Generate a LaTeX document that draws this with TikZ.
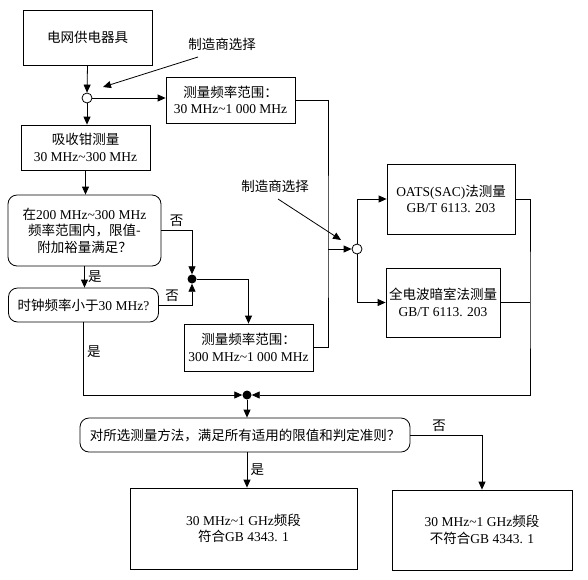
\documentclass[tikz,border=0pt]{standalone}
\usepackage{fontspec}
\setmainfont{Liberation Serif}
\newfontfamily\cjk{Noto Sans CJK SC}
\newcommand{\cn}[1]{{\cjk #1}}
\usetikzlibrary{arrows.meta}
\tikzset{
  box/.style={draw, line width=0.8pt, align=center, inner sep=0pt},
  ask/.style={box, rounded corners=9pt},
  hub/.style={circle, draw, line width=0.8pt, fill=white, inner sep=0pt, minimum size=10pt},
  joint/.style={circle, fill=black, inner sep=0pt, minimum size=9pt},
  note/.style={inner sep=1pt},
  wire/.style={line width=0.8pt},
  flow/.style={wire, -{Triangle[length=8pt,width=7pt]}}
}
\begin{document}
\begin{tikzpicture}[x=1pt, y=-1pt, font=\fontsize{13.5}{16.5}\selectfont]
  \useasboundingbox (0,0) rectangle (588,579);
  \draw
    (87.5,37.5) node[box, minimum width=129, minimum height=55] (dev){\cn{电网供电器具}}
    (87,98) node[hub] (c1){}
    (230.5,100) node[box, minimum width=129, minimum height=46] (r1){\cn{测量频率范围：}\\30 MHz\textasciitilde 1 000 MHz}
    (85.5,147.5) node[box, minimum width=129, minimum height=45] (clamp){\cn{吸收钳测量}\\30 MHz\textasciitilde 300 MHz}
    (84.5,230.5) node[ask, minimum width=153, minimum height=71] (q1){\cn{在}200 MHz\textasciitilde 300 MHz\\\cn{频率范围内，限值-}\\\cn{附加裕量满足？}}
    (83.5,305) node[ask, minimum width=150, minimum height=34] (q2){\cn{时钟频率小于}30 MHz?}
    (192,279) node[joint] (f1){}
    (248.5,347.5) node[box, minimum width=129, minimum height=47] (r2){\cn{测量频率范围：}\\300 MHz\textasciitilde 1 000 MHz}
    (357,249) node[hub] (c2){}
    (451,199) node[box, minimum width=128, minimum height=70] (oats){OATS(SAC)\cn{法测量}\\GB/T 6113. 203}
    (443,302.5) node[box, minimum width=114, minimum height=69] (fac){\cn{全电波暗室法测量}\\GB/T 6113. 203}
    (247,395) node[joint] (f2){}
    (245,435) node[ask, minimum width=330, minimum height=34] (q3){\cn{对所选测量方法，满足所有适用的限值和判定准则？}}
    (243.5,528.5) node[box, minimum width=227, minimum height=81] (pass){30 MHz\textasciitilde 1 GHz\cn{频段}\\\cn{符合}GB 4343. 1}
    (482,530) node[box, minimum width=180, minimum height=80] (fail){30 MHz\textasciitilde 1 GHz\cn{频段}\\\cn{不符合}GB 4343. 1}
    (222,44) node[note] (lab1){\cn{制造商选择}}
    (275,186) node[note] (lab2){\cn{制造商选择}};
  \coordinate (m1a) at (198,57);
  \coordinate (m1b) at (103,87);
  \coordinate (m2a) at (278,199);
  \coordinate (m2b) at (341,240);
  \coordinate (bus) at (328,249);
  \coordinate (rb) at (530,302.5);
  \begin{scope}[flow]
    \draw (m1a) -- (m1b);
    \draw (m2a) -- (m2b);
    \draw (dev.south) -- (c1.north);
    \draw (c1.east) -- (c1.east -| r1.west);
    \draw (c1.south) -- (c1.south |- clamp.north);
    \draw (clamp.south) -- (clamp.south |- q1.north);
    \draw (q1.south) -- node[right]{\cn{是}} (q1.south |- q2.north);
    \draw (q1.east) -| node[above, pos=0.25]{\cn{否}} (f1.north);
    \draw (q2.east) -| node[above, pos=0.2]{\cn{否}} (f1.south);
    \draw (f1.east) -| (r2.north);
    \draw (bus) -- (c2.west);
    \draw (c2.north) |- (oats.west);
    \draw (c2.south) |- (fac.west);
    \draw (q2.south) |- node[right, pos=0.2]{\cn{是}} (f2.west);
    \draw (oats.east) -| (rb) |- (f2.east);
    \draw (f2.south) -- (f2 |- q3.north);
    \draw (f2 |- q3.south) -- node[right]{\cn{是}} (f2 |- pass.north);
    \draw (q3.east) -| node[above, pos=0.2]{\cn{否}} (fail.north);
  \end{scope}
  \begin{scope}[wire]
    \draw (r1.east) -| (bus) |- (r2.east);
    \draw (fac.east) -- (rb);
  \end{scope}
\end{tikzpicture}
\end{document}
